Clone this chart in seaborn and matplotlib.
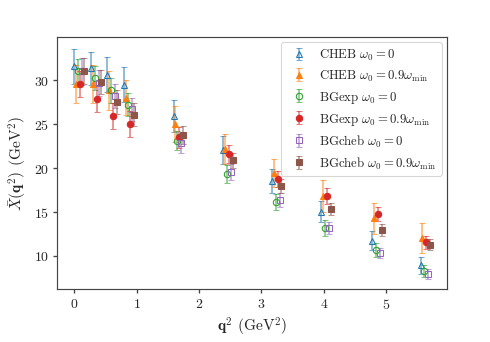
import numpy as np
import matplotlib
matplotlib.use('Agg')
import matplotlib.pyplot as plt
import seaborn as sns

# q^2 points (GeV^2), per-series offset added below so bars don't overlap
q2 = np.array([0.0, 0.27, 0.53, 0.80, 1.59, 2.39, 3.17, 3.96, 4.78, 5.55])

cheb_0 = [31.6, 31.35, 30.6, 29.5, 25.9, 22.0, 18.5, 15.0, 11.7, 8.9]
cheb_0_err = [2.0, 1.9, 2.0, 2.0, 1.8, 1.6, 1.4, 1.2, 1.1, 0.95]
cheb_09 = [29.55, 29.55, 28.85, 28.0, 25.0, 22.15, 19.4, 16.8, 14.25, 12.0]
cheb_09_err = [2.2, 2.2, 2.2, 2.0, 2.0, 1.75, 1.6, 1.8, 1.75, 1.7]
bgexp_0 = [31.0, 30.25, 28.85, 27.2, 23.1, 19.3, 16.1, 13.15, 10.65, 8.2]
bgexp_0_err = [1.4, 1.4, 1.4, 1.3, 1.1, 1.0, 0.9, 0.9, 0.8, 0.7]
bgexp_09 = [29.55, 27.9, 25.95, 25.0, 23.5, 21.55, 18.7, 16.8, 14.7, 11.5]
bgexp_09_err = [1.5, 1.5, 1.5, 1.5, 1.2, 1.0, 0.9, 0.9, 0.8, 0.75]
bgcheb_0 = [31.0, 29.7, 28.2, 26.7, 22.8, 19.55, 16.3, 13.15, 10.3, 7.9]
bgcheb_0_err = [1.5, 1.5, 1.4, 1.3, 1.1, 0.9, 0.8, 0.7, 0.6, 0.55]
bgcheb_09 = [31.05, 29.8, 27.5, 26.05, 23.75, 20.85, 17.9, 15.3, 12.95, 11.25]
bgcheb_09_err = [1.5, 1.4, 1.4, 1.3, 1.0, 0.9, 0.8, 0.7, 0.7, 0.6]

labels = [
    r'CHEB $\omega_0 = 0$',
    r'CHEB $\omega_0 = 0.9\omega_{\rm min}$',
    r'BGexp $\omega_0 = 0$',
    r'BGexp $\omega_0 = 0.9\omega_{\rm min}$',
    r'BGcheb $\omega_0 = 0$',
    r'BGcheb $\omega_0 = 0.9\omega_{\rm min}$',
]
series = [(cheb_0, cheb_0_err), (cheb_09, cheb_09_err),
          (bgexp_0, bgexp_0_err), (bgexp_09, bgexp_09_err),
          (bgcheb_0, bgcheb_0_err), (bgcheb_09, bgcheb_09_err)]
markers = ['^', '^', 'o', 'o', 's', 's']
filled = [False, True, False, True, False, True]
dx = 0.03

sns.set_theme(style='ticks')
plt.rcParams['font.family'] = ['cmr10', 'DejaVu Serif']
plt.rcParams['mathtext.fontset'] = 'cm'
plt.rcParams['axes.formatter.use_mathtext'] = True

colors = sns.color_palette('tab10', 6)

fig = plt.figure(figsize=(6.4, 4.47), dpi=76.7)
ax = fig.add_axes([0.116, 0.155, 0.794, 0.734])

for i, ((vals, errs), lab) in enumerate(zip(series, labels)):
    c = colors[i]
    ax.errorbar(q2 + i * dx, vals, yerr=errs, fmt=markers[i], color=c,
                ecolor=(*c, 0.6), elinewidth=1.5, capsize=3, capthick=1.2,
                markersize=6,
                markerfacecolor=c if filled[i] else 'none',
                markeredgecolor=c, markeredgewidth=1.0, label=lab)

ax.set_xlim(-0.28, 5.97)
ax.set_ylim(6.2, 34.9)
ax.set_xticks([0, 1, 2, 3, 4, 5])
ax.set_yticks([10, 15, 20, 25, 30])
ax.tick_params(labelsize=13, color='#444444', length=4)
for s in ax.spines.values():
    s.set_color('#444444')
    s.set_linewidth(1.1)
ax.set_xlabel(r'$\mathbf{q}^2$ (GeV$^2$)', fontsize=14.5)
ax.set_ylabel(r'$\bar{X}(\mathbf{q}^2)$ (GeV$^2$)', fontsize=14.5)
ax.legend(loc='upper right', fontsize=12, frameon=True, handletextpad=0.6,
          borderaxespad=0.4, labelspacing=0.45)

fig.savefig('out.png', dpi=76.7)
